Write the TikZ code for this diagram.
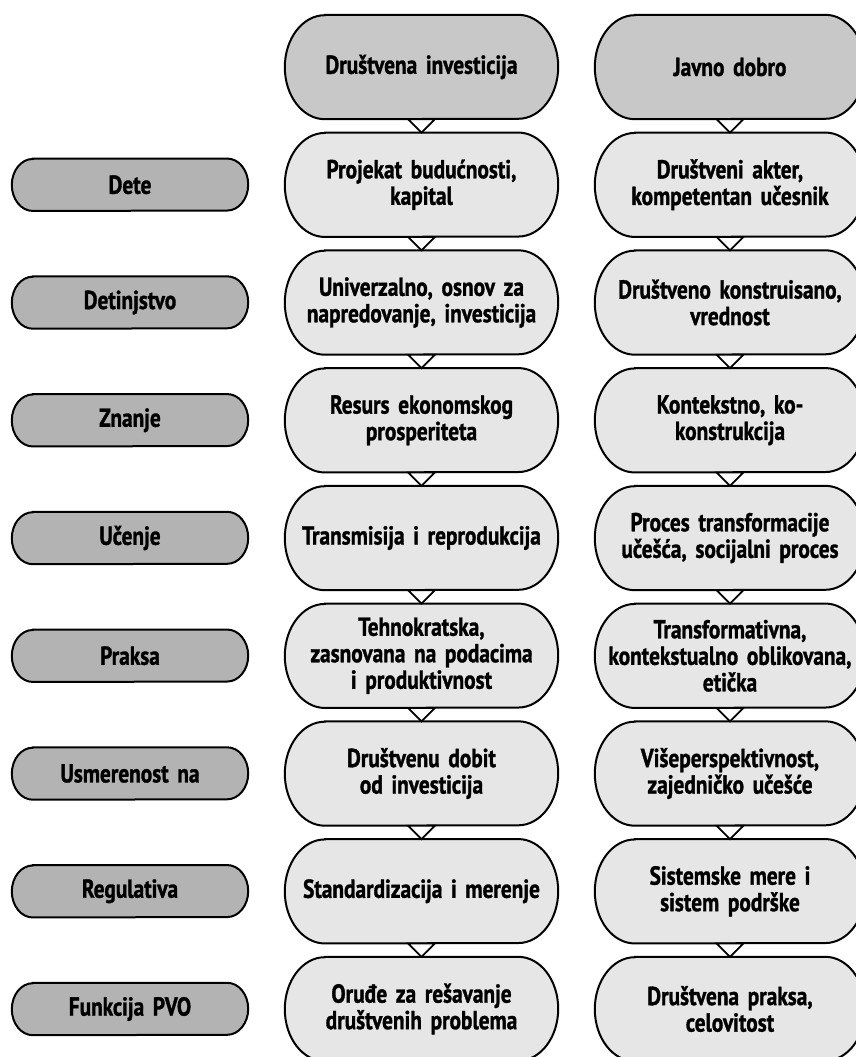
\documentclass[tikz,border=0pt]{standalone}
\usepackage{fontspec}
\setmainfont{PT Sans Bold}[FakeStretch=0.82,FakeBold=1.2,WordSpace=0.8]
\usetikzlibrary{calc,backgrounds}
\definecolor{headfill}{HTML}{C8C8C8}
\definecolor{labfill}{HTML}{B3B3B3}
\definecolor{bodyfill}{HTML}{E6E6E6}
\newcommand\pillpath[4]{%
  \draw[pillline, fill=#2] ($(#1.north west)+(#3,0)$) -- ($(#1.north east)+(-#3,0)$)
    arc[start angle=90,end angle=-90,x radius=#3,y radius=#4]
    -- ($(#1.south west)+(#3,0)$)
    arc[start angle=270,end angle=90,x radius=#3,y radius=#4] -- cycle;}
\newcommand\linktri[2]{%
  \draw[triline] ($(#1.south)+(-13.5,0)$) -- ($(#1.south)+(13.5,0)$) -- (#2.north) -- cycle;}
\begin{document}
\begin{tikzpicture}[x=1pt,y=1pt,
  every node/.style={font=\fontsize{26}{26.5}\selectfont, align=center, inner sep=0pt},
  midbox/.style={minimum width=273pt, minimum height=104pt, text width=266pt},
  rightbox/.style={minimum width=270pt, minimum height=104pt, text width=266pt},
  labbox/.style={minimum width=236pt, minimum height=52pt, text width=226pt},
  pillline/.style={line width=2pt, draw=black},
  triline/.style={line width=1.8pt, draw=black, fill=white, line join=miter}]
\useasboundingbox (0,0) rectangle (855,-1057);
% header
\node[midbox] (m0) at (421.5,-67) {Društvena investicija};
\node[rightbox] (r0) at (730,-67) {Javno dobro};
% rows
\node[labbox] (l1) at (130,-184.75) {Dete};
\node[midbox] (m1) at (421.5,-184.75) {Projekat budućnosti,\\kapital};
\node[rightbox] (r1) at (730,-184.75) {Društveni akter,\\kompetentan učesnik};
\node[labbox] (l2) at (130,-302.5) {Detinjstvo};
\node[midbox] (m2) at (421.5,-302.5) {Univerzalno, osnov za\\napredovanje, investicija};
\node[rightbox] (r2) at (730,-302.5) {Društveno konstruisano,\\vrednost};
\node[labbox] (l3) at (130,-420.25) {Znanje};
\node[midbox] (m3) at (421.5,-420.25) {Resurs ekonomskog\\prosperiteta};
\node[rightbox] (r3) at (730,-420.25) {Kontekstno, ko-\\konstrukcija};
\node[labbox] (l4) at (130,-538) {Učenje};
\node[midbox] (m4) at (421.5,-538) {Transmisija i reprodukcija};
\node[rightbox] (r4) at (730,-538) {Proces transformacije\\učešća, socijalni proces};
\node[labbox] (l5) at (130,-655.75) {Praksa};
\node[midbox] (m5) at (421.5,-655.75) {Tehnokratska,\\zasnovana na podacima\\i produktivnost};
\node[rightbox] (r5) at (730,-655.75) {Transformativna,\\kontekstualno oblikovana,\\etička};
\node[labbox] (l6) at (130,-773.5) {Usmerenost na};
\node[midbox] (m6) at (421.5,-773.5) {Društvenu dobit\\od investicija};
\node[rightbox] (r6) at (730,-773.5) {Višeperspektivnost,\\zajedničko učešće};
\node[labbox] (l7) at (130,-891.25) {Regulativa};
\node[midbox] (m7) at (421.5,-891.25) {Standardizacija i merenje};
\node[rightbox] (r7) at (730,-891.25) {Sistemske mere i\\sistem podrške};
\node[labbox] (l8) at (130,-1009) {Funkcija PVO};
\node[midbox] (m8) at (421.5,-1009) {Oruđe za rešavanje\\društvenih problema};
\node[rightbox] (r8) at (730,-1009) {Društvena praksa,\\celovitost};
\begin{pgfonlayer}{background}
  \pillpath{m0}{headfill}{40}{52}
  \pillpath{r0}{headfill}{40}{52}
  \foreach \k in {1,...,8}{
    \pillpath{l\k}{labfill}{21}{26}
    \pillpath{m\k}{bodyfill}{40}{52}
    \pillpath{r\k}{bodyfill}{40}{52}
  }
\end{pgfonlayer}
\foreach \k [evaluate=\k as \n using int(\k+1)] in {0,...,7}{
  \linktri{m\k}{m\n}
  \linktri{r\k}{r\n}
}
\end{tikzpicture}
\end{document}
